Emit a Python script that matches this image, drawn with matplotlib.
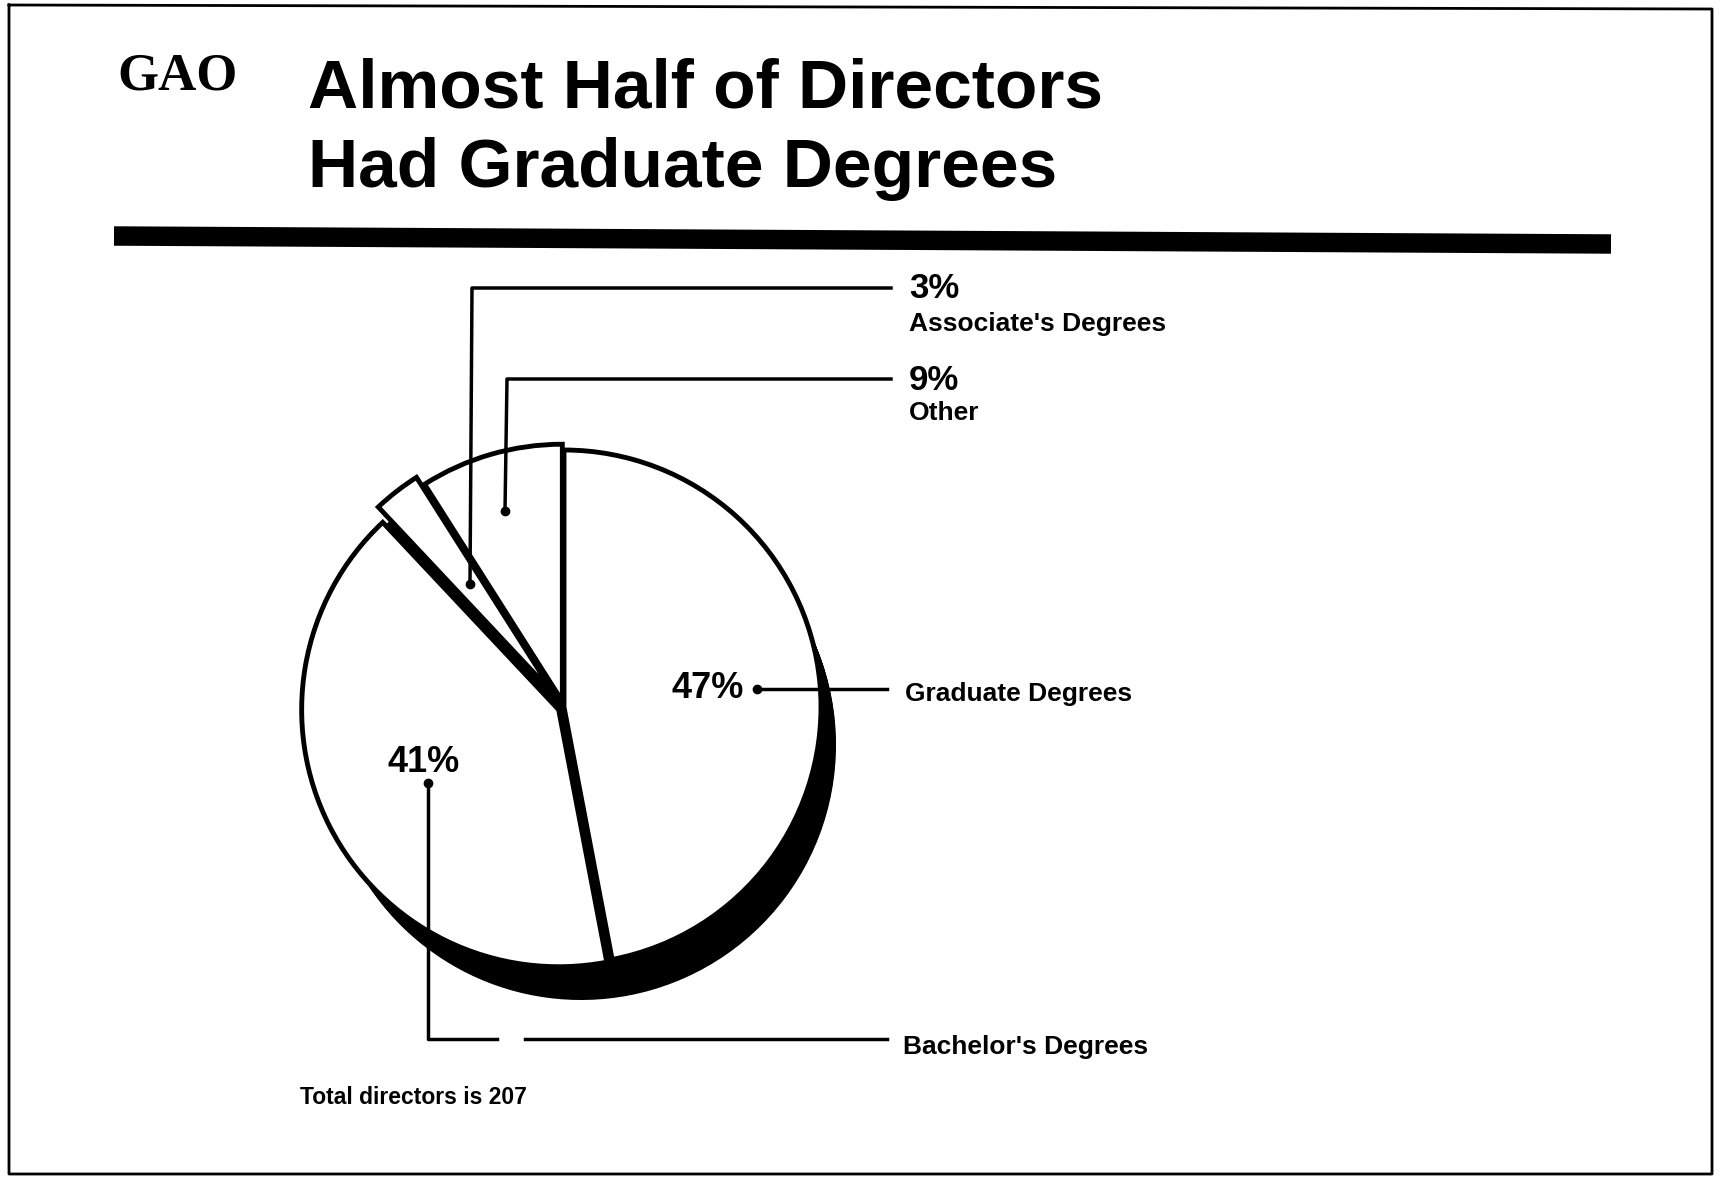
import numpy as np
import matplotlib
matplotlib.use("Agg")
import matplotlib.pyplot as plt

# data
categories = ["Graduate Degrees", "Bachelor's Degrees", "Associate's Degrees", "Other"]
shares = [47, 41, 3, 9]
pct_labels = ["47%", "41%", "3%", "9%"]
explode = [0, 6, 16, 6]   # pixels, slices pulled out a little
total_note = "Total directors is 207"

W, H = 1721, 1179

def Y(y):
    # page coordinates measured from the top
    return H - y

fig = plt.figure(figsize=(17.21, 11.79), dpi=100)
ax = fig.add_axes([0, 0, 1, 1])

plt.rcParams['font.family'] = ['Liberation Sans', 'DejaVu Sans']

# pie geometry
cx, cy, R = 564, 707, 257
dx, dy = 17, 38

# 3-d extrusion: stack black copies of the pie going down-right
for t in np.linspace(1, 0, 40):
    ax.pie(shares, startangle=90, counterclock=False,
           center=(cx + dx * t, Y(cy + dy * t)), radius=R - 2,
           colors=['black'] * len(shares), wedgeprops={'linewidth': 0})

# top face
ax.pie(shares, explode=explode, startangle=90, counterclock=False,
       center=(cx, Y(cy)), radius=R, colors=['white'] * len(shares),
       wedgeprops={'edgecolor': 'black', 'linewidth': 3.5})

ax.set_xlim(0, W)
ax.set_ylim(0, H)
ax.set_aspect('auto')
ax.axis('off')

# page frame and header rule
ax.plot([9, 1712, 1712, 9, 9], [Y(5), Y(9), Y(1174), Y(1174), Y(5)], color='black', lw=2)
ax.plot([114, 1611], [Y(236), Y(244)], color='black', lw=14, solid_capstyle='butt')

ax.text(117, Y(76), "GAO", family='Liberation Serif', fontsize=38, va='center', ha='left',
        fontweight='bold')
ax.text(308, Y(89), "Almost Half of Directors", fontsize=50, va='center', ha='left',
        fontweight='bold')
ax.text(308, Y(169), "Had Graduate Degrees", fontsize=50, va='center', ha='left',
        fontweight='bold')

lc = dict(color='black', lw=2.5)
dot = dict(marker='o', ms=6, color='black', ls='none')

# Associate's
ax.plot([470, 472, 891], [Y(584), Y(288), Y(288)], **lc)
ax.plot([470], [Y(584)], **dot)
ax.text(909, Y(288), pct_labels[2], fontsize=25, fontweight='bold', va='center')
ax.text(909, Y(324), categories[2], fontsize=19, fontweight='bold', va='center')

# Other
ax.plot([505, 507, 891], [Y(511), Y(379), Y(379)], **lc)
ax.plot([505], [Y(511)], **dot)
ax.text(909, Y(380), pct_labels[3], fontsize=25, fontweight='bold', va='center')
ax.text(909, Y(413), categories[3], fontsize=19, fontweight='bold', va='center')

# Graduate
ax.plot([757, 887], [Y(689), Y(689)], **lc)
ax.plot([757], [Y(689)], **dot)
ax.text(744, Y(689), pct_labels[0], fontsize=26, fontweight='bold', va='center', ha='right')
ax.text(905, Y(694), categories[0], fontsize=19, fontweight='bold', va='center')

# Bachelor's
ax.plot([428, 428, 497], [Y(783), Y(1039), Y(1039)], **lc)
ax.plot([525, 887], [Y(1039), Y(1039)], **lc)
ax.plot([428], [Y(783)], **dot)
ax.text(424, Y(762), pct_labels[1], fontsize=26, fontweight='bold', va='center', ha='center')
ax.text(903, Y(1047), categories[1], fontsize=19, fontweight='bold', va='center')

ax.text(300, Y(1098), total_note, fontsize=16.5, fontweight='bold', va='center')

plt.savefig('out.png', dpi=100)
